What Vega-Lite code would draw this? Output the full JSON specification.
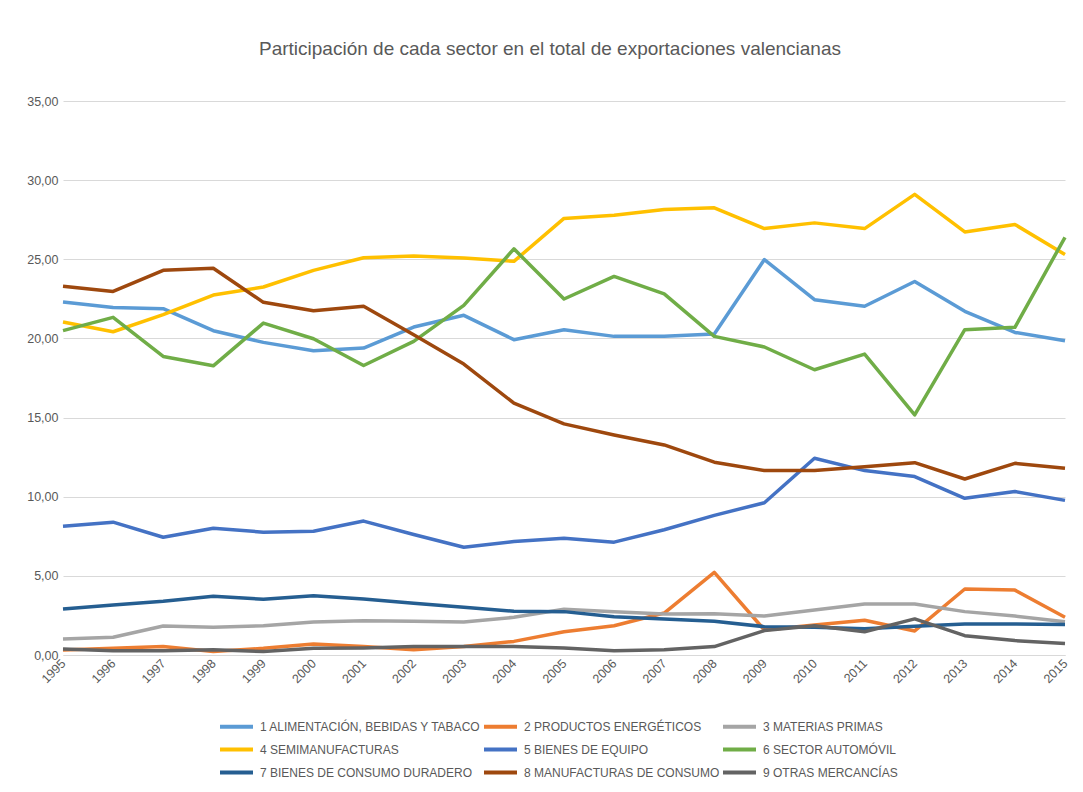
{
  "$schema": "https://vega.github.io/schema/vega-lite/v6.json",
  "autosize": {"type": "none"},
  "width": 1002,
  "height": 554,
  "padding": {"left": 63, "top": 101, "right": 18, "bottom": 137},
  "background": "white",
  "title": {
    "text": "Participación de cada sector en el total de exportaciones valencianas",
    "fontSize": 19,
    "fontWeight": "normal",
    "color": "#595959",
    "font": "Liberation Sans",
    "offset": 36,
    "dx": -14
  },
  "config": {
    "view": {"stroke": null},
    "font": "Liberation Sans"
  },
  "data": {
    "values": [
      {"y":1995,"k":"1 ALIMENTACIÓN, BEBIDAS Y TABACO","v":22.3},{"y":1996,"k":"1 ALIMENTACIÓN, BEBIDAS Y TABACO","v":21.96},{"y":1997,"k":"1 ALIMENTACIÓN, BEBIDAS Y TABACO","v":21.88},{"y":1998,"k":"1 ALIMENTACIÓN, BEBIDAS Y TABACO","v":20.49},{"y":1999,"k":"1 ALIMENTACIÓN, BEBIDAS Y TABACO","v":19.75},{"y":2000,"k":"1 ALIMENTACIÓN, BEBIDAS Y TABACO","v":19.22},{"y":2001,"k":"1 ALIMENTACIÓN, BEBIDAS Y TABACO","v":19.39},{"y":2002,"k":"1 ALIMENTACIÓN, BEBIDAS Y TABACO","v":20.72},{"y":2003,"k":"1 ALIMENTACIÓN, BEBIDAS Y TABACO","v":21.46},{"y":2004,"k":"1 ALIMENTACIÓN, BEBIDAS Y TABACO","v":19.92},{"y":2005,"k":"1 ALIMENTACIÓN, BEBIDAS Y TABACO","v":20.55},{"y":2006,"k":"1 ALIMENTACIÓN, BEBIDAS Y TABACO","v":20.13},{"y":2007,"k":"1 ALIMENTACIÓN, BEBIDAS Y TABACO","v":20.13},{"y":2008,"k":"1 ALIMENTACIÓN, BEBIDAS Y TABACO","v":20.28},{"y":2009,"k":"1 ALIMENTACIÓN, BEBIDAS Y TABACO","v":24.98},{"y":2010,"k":"1 ALIMENTACIÓN, BEBIDAS Y TABACO","v":22.45},{"y":2011,"k":"1 ALIMENTACIÓN, BEBIDAS Y TABACO","v":22.03},{"y":2012,"k":"1 ALIMENTACIÓN, BEBIDAS Y TABACO","v":23.6},{"y":2013,"k":"1 ALIMENTACIÓN, BEBIDAS Y TABACO","v":21.71},{"y":2014,"k":"1 ALIMENTACIÓN, BEBIDAS Y TABACO","v":20.38},{"y":2015,"k":"1 ALIMENTACIÓN, BEBIDAS Y TABACO","v":19.85},
      {"y":1995,"k":"2 PRODUCTOS ENERGÉTICOS","v":0.32},{"y":1996,"k":"2 PRODUCTOS ENERGÉTICOS","v":0.42},{"y":1997,"k":"2 PRODUCTOS ENERGÉTICOS","v":0.53},{"y":1998,"k":"2 PRODUCTOS ENERGÉTICOS","v":0.22},{"y":1999,"k":"2 PRODUCTOS ENERGÉTICOS","v":0.42},{"y":2000,"k":"2 PRODUCTOS ENERGÉTICOS","v":0.7},{"y":2001,"k":"2 PRODUCTOS ENERGÉTICOS","v":0.53},{"y":2002,"k":"2 PRODUCTOS ENERGÉTICOS","v":0.33},{"y":2003,"k":"2 PRODUCTOS ENERGÉTICOS","v":0.53},{"y":2004,"k":"2 PRODUCTOS ENERGÉTICOS","v":0.86},{"y":2005,"k":"2 PRODUCTOS ENERGÉTICOS","v":1.47},{"y":2006,"k":"2 PRODUCTOS ENERGÉTICOS","v":1.85},{"y":2007,"k":"2 PRODUCTOS ENERGÉTICOS","v":2.65},{"y":2008,"k":"2 PRODUCTOS ENERGÉTICOS","v":5.22},{"y":2009,"k":"2 PRODUCTOS ENERGÉTICOS","v":1.58},{"y":2010,"k":"2 PRODUCTOS ENERGÉTICOS","v":1.9},{"y":2011,"k":"2 PRODUCTOS ENERGÉTICOS","v":2.2},{"y":2012,"k":"2 PRODUCTOS ENERGÉTICOS","v":1.52},{"y":2013,"k":"2 PRODUCTOS ENERGÉTICOS","v":4.17},{"y":2014,"k":"2 PRODUCTOS ENERGÉTICOS","v":4.1},{"y":2015,"k":"2 PRODUCTOS ENERGÉTICOS","v":2.38},
      {"y":1995,"k":"3 MATERIAS PRIMAS","v":1.01},{"y":1996,"k":"3 MATERIAS PRIMAS","v":1.12},{"y":1997,"k":"3 MATERIAS PRIMAS","v":1.83},{"y":1998,"k":"3 MATERIAS PRIMAS","v":1.75},{"y":1999,"k":"3 MATERIAS PRIMAS","v":1.85},{"y":2000,"k":"3 MATERIAS PRIMAS","v":2.09},{"y":2001,"k":"3 MATERIAS PRIMAS","v":2.17},{"y":2002,"k":"3 MATERIAS PRIMAS","v":2.13},{"y":2003,"k":"3 MATERIAS PRIMAS","v":2.09},{"y":2004,"k":"3 MATERIAS PRIMAS","v":2.38},{"y":2005,"k":"3 MATERIAS PRIMAS","v":2.89},{"y":2006,"k":"3 MATERIAS PRIMAS","v":2.74},{"y":2007,"k":"3 MATERIAS PRIMAS","v":2.59},{"y":2008,"k":"3 MATERIAS PRIMAS","v":2.6},{"y":2009,"k":"3 MATERIAS PRIMAS","v":2.46},{"y":2010,"k":"3 MATERIAS PRIMAS","v":2.84},{"y":2011,"k":"3 MATERIAS PRIMAS","v":3.22},{"y":2012,"k":"3 MATERIAS PRIMAS","v":3.22},{"y":2013,"k":"3 MATERIAS PRIMAS","v":2.74},{"y":2014,"k":"3 MATERIAS PRIMAS","v":2.46},{"y":2015,"k":"3 MATERIAS PRIMAS","v":2.1},
      {"y":1995,"k":"4 SEMIMANUFACTURAS","v":21.04},{"y":1996,"k":"4 SEMIMANUFACTURAS","v":20.42},{"y":1997,"k":"4 SEMIMANUFACTURAS","v":21.5},{"y":1998,"k":"4 SEMIMANUFACTURAS","v":22.74},{"y":1999,"k":"4 SEMIMANUFACTURAS","v":23.25},{"y":2000,"k":"4 SEMIMANUFACTURAS","v":24.3},{"y":2001,"k":"4 SEMIMANUFACTURAS","v":25.1},{"y":2002,"k":"4 SEMIMANUFACTURAS","v":25.2},{"y":2003,"k":"4 SEMIMANUFACTURAS","v":25.08},{"y":2004,"k":"4 SEMIMANUFACTURAS","v":24.87},{"y":2005,"k":"4 SEMIMANUFACTURAS","v":27.58},{"y":2006,"k":"4 SEMIMANUFACTURAS","v":27.78},{"y":2007,"k":"4 SEMIMANUFACTURAS","v":28.14},{"y":2008,"k":"4 SEMIMANUFACTURAS","v":28.25},{"y":2009,"k":"4 SEMIMANUFACTURAS","v":26.94},{"y":2010,"k":"4 SEMIMANUFACTURAS","v":27.3},{"y":2011,"k":"4 SEMIMANUFACTURAS","v":26.94},{"y":2012,"k":"4 SEMIMANUFACTURAS","v":29.1},{"y":2013,"k":"4 SEMIMANUFACTURAS","v":26.73},{"y":2014,"k":"4 SEMIMANUFACTURAS","v":27.2},{"y":2015,"k":"4 SEMIMANUFACTURAS","v":25.3},
      {"y":1995,"k":"5 BIENES DE EQUIPO","v":8.14},{"y":1996,"k":"5 BIENES DE EQUIPO","v":8.39},{"y":1997,"k":"5 BIENES DE EQUIPO","v":7.44},{"y":1998,"k":"5 BIENES DE EQUIPO","v":8.01},{"y":1999,"k":"5 BIENES DE EQUIPO","v":7.76},{"y":2000,"k":"5 BIENES DE EQUIPO","v":7.82},{"y":2001,"k":"5 BIENES DE EQUIPO","v":8.46},{"y":2002,"k":"5 BIENES DE EQUIPO","v":7.61},{"y":2003,"k":"5 BIENES DE EQUIPO","v":6.81},{"y":2004,"k":"5 BIENES DE EQUIPO","v":7.17},{"y":2005,"k":"5 BIENES DE EQUIPO","v":7.38},{"y":2006,"k":"5 BIENES DE EQUIPO","v":7.13},{"y":2007,"k":"5 BIENES DE EQUIPO","v":7.91},{"y":2008,"k":"5 BIENES DE EQUIPO","v":8.82},{"y":2009,"k":"5 BIENES DE EQUIPO","v":9.62},{"y":2010,"k":"5 BIENES DE EQUIPO","v":12.43},{"y":2011,"k":"5 BIENES DE EQUIPO","v":11.65},{"y":2012,"k":"5 BIENES DE EQUIPO","v":11.27},{"y":2013,"k":"5 BIENES DE EQUIPO","v":9.9},{"y":2014,"k":"5 BIENES DE EQUIPO","v":10.33},{"y":2015,"k":"5 BIENES DE EQUIPO","v":9.77},
      {"y":1995,"k":"6 SECTOR AUTOMÓVIL","v":20.49},{"y":1996,"k":"6 SECTOR AUTOMÓVIL","v":21.33},{"y":1997,"k":"6 SECTOR AUTOMÓVIL","v":18.86},{"y":1998,"k":"6 SECTOR AUTOMÓVIL","v":18.27},{"y":1999,"k":"6 SECTOR AUTOMÓVIL","v":20.97},{"y":2000,"k":"6 SECTOR AUTOMÓVIL","v":19.98},{"y":2001,"k":"6 SECTOR AUTOMÓVIL","v":18.29},{"y":2002,"k":"6 SECTOR AUTOMÓVIL","v":19.81},{"y":2003,"k":"6 SECTOR AUTOMÓVIL","v":22.09},{"y":2004,"k":"6 SECTOR AUTOMÓVIL","v":25.66},{"y":2005,"k":"6 SECTOR AUTOMÓVIL","v":22.49},{"y":2006,"k":"6 SECTOR AUTOMÓVIL","v":23.92},{"y":2007,"k":"6 SECTOR AUTOMÓVIL","v":22.81},{"y":2008,"k":"6 SECTOR AUTOMÓVIL","v":20.13},{"y":2009,"k":"6 SECTOR AUTOMÓVIL","v":19.46},{"y":2010,"k":"6 SECTOR AUTOMÓVIL","v":18.02},{"y":2011,"k":"6 SECTOR AUTOMÓVIL","v":19.01},{"y":2012,"k":"6 SECTOR AUTOMÓVIL","v":15.17},{"y":2013,"k":"6 SECTOR AUTOMÓVIL","v":20.55},{"y":2014,"k":"6 SECTOR AUTOMÓVIL","v":20.7},{"y":2015,"k":"6 SECTOR AUTOMÓVIL","v":26.39},
      {"y":1995,"k":"7 BIENES DE CONSUMO DURADERO","v":2.91},{"y":1996,"k":"7 BIENES DE CONSUMO DURADERO","v":3.16},{"y":1997,"k":"7 BIENES DE CONSUMO DURADERO","v":3.39},{"y":1998,"k":"7 BIENES DE CONSUMO DURADERO","v":3.71},{"y":1999,"k":"7 BIENES DE CONSUMO DURADERO","v":3.52},{"y":2000,"k":"7 BIENES DE CONSUMO DURADERO","v":3.75},{"y":2001,"k":"7 BIENES DE CONSUMO DURADERO","v":3.54},{"y":2002,"k":"7 BIENES DE CONSUMO DURADERO","v":3.27},{"y":2003,"k":"7 BIENES DE CONSUMO DURADERO","v":3.01},{"y":2004,"k":"7 BIENES DE CONSUMO DURADERO","v":2.76},{"y":2005,"k":"7 BIENES DE CONSUMO DURADERO","v":2.74},{"y":2006,"k":"7 BIENES DE CONSUMO DURADERO","v":2.42},{"y":2007,"k":"7 BIENES DE CONSUMO DURADERO","v":2.28},{"y":2008,"k":"7 BIENES DE CONSUMO DURADERO","v":2.13},{"y":2009,"k":"7 BIENES DE CONSUMO DURADERO","v":1.79},{"y":2010,"k":"7 BIENES DE CONSUMO DURADERO","v":1.75},{"y":2011,"k":"7 BIENES DE CONSUMO DURADERO","v":1.66},{"y":2012,"k":"7 BIENES DE CONSUMO DURADERO","v":1.81},{"y":2013,"k":"7 BIENES DE CONSUMO DURADERO","v":1.96},{"y":2014,"k":"7 BIENES DE CONSUMO DURADERO","v":1.96},{"y":2015,"k":"7 BIENES DE CONSUMO DURADERO","v":1.92},
      {"y":1995,"k":"8 MANUFACTURAS DE CONSUMO","v":23.29},{"y":1996,"k":"8 MANUFACTURAS DE CONSUMO","v":22.97},{"y":1997,"k":"8 MANUFACTURAS DE CONSUMO","v":24.3},{"y":1998,"k":"8 MANUFACTURAS DE CONSUMO","v":24.43},{"y":1999,"k":"8 MANUFACTURAS DE CONSUMO","v":22.28},{"y":2000,"k":"8 MANUFACTURAS DE CONSUMO","v":21.75},{"y":2001,"k":"8 MANUFACTURAS DE CONSUMO","v":22.03},{"y":2002,"k":"8 MANUFACTURAS DE CONSUMO","v":20.23},{"y":2003,"k":"8 MANUFACTURAS DE CONSUMO","v":18.38},{"y":2004,"k":"8 MANUFACTURAS DE CONSUMO","v":15.91},{"y":2005,"k":"8 MANUFACTURAS DE CONSUMO","v":14.6},{"y":2006,"k":"8 MANUFACTURAS DE CONSUMO","v":13.9},{"y":2007,"k":"8 MANUFACTURAS DE CONSUMO","v":13.27},{"y":2008,"k":"8 MANUFACTURAS DE CONSUMO","v":12.18},{"y":2009,"k":"8 MANUFACTURAS DE CONSUMO","v":11.65},{"y":2010,"k":"8 MANUFACTURAS DE CONSUMO","v":11.65},{"y":2011,"k":"8 MANUFACTURAS DE CONSUMO","v":11.9},{"y":2012,"k":"8 MANUFACTURAS DE CONSUMO","v":12.15},{"y":2013,"k":"8 MANUFACTURAS DE CONSUMO","v":11.12},{"y":2014,"k":"8 MANUFACTURAS DE CONSUMO","v":12.11},{"y":2015,"k":"8 MANUFACTURAS DE CONSUMO","v":11.8},
      {"y":1995,"k":"9 OTRAS MERCANCÍAS","v":0.38},{"y":1996,"k":"9 OTRAS MERCANCÍAS","v":0.27},{"y":1997,"k":"9 OTRAS MERCANCÍAS","v":0.27},{"y":1998,"k":"9 OTRAS MERCANCÍAS","v":0.33},{"y":1999,"k":"9 OTRAS MERCANCÍAS","v":0.22},{"y":2000,"k":"9 OTRAS MERCANCÍAS","v":0.42},{"y":2001,"k":"9 OTRAS MERCANCÍAS","v":0.44},{"y":2002,"k":"9 OTRAS MERCANCÍAS","v":0.53},{"y":2003,"k":"9 OTRAS MERCANCÍAS","v":0.53},{"y":2004,"k":"9 OTRAS MERCANCÍAS","v":0.53},{"y":2005,"k":"9 OTRAS MERCANCÍAS","v":0.44},{"y":2006,"k":"9 OTRAS MERCANCÍAS","v":0.27},{"y":2007,"k":"9 OTRAS MERCANCÍAS","v":0.33},{"y":2008,"k":"9 OTRAS MERCANCÍAS","v":0.53},{"y":2009,"k":"9 OTRAS MERCANCÍAS","v":1.54},{"y":2010,"k":"9 OTRAS MERCANCÍAS","v":1.85},{"y":2011,"k":"9 OTRAS MERCANCÍAS","v":1.47},{"y":2012,"k":"9 OTRAS MERCANCÍAS","v":2.28},{"y":2013,"k":"9 OTRAS MERCANCÍAS","v":1.22},{"y":2014,"k":"9 OTRAS MERCANCÍAS","v":0.91},{"y":2015,"k":"9 OTRAS MERCANCÍAS","v":0.73}
    ]
  },
  "mark": {"type": "line", "strokeWidth": 3.5, "strokeJoin": "round", "strokeCap": "butt"},
  "encoding": {
    "x": {
      "field": "y",
      "type": "ordinal",
      "scale": {"type": "point", "padding": 0},
      "axis": {
        "title": null,
        "labelAngle": -45,
        "labelAlign": "right",
        "labelBaseline": "middle",
        "labelFontSize": 12.5,
        "labelColor": "#595959",
        "labelPadding": 6,
        "ticks": false,
        "domain": true,
        "domainColor": "#d9d9d9",
        "domainWidth": 1,
        "grid": false
      }
    },
    "y": {
      "field": "v",
      "type": "quantitative",
      "scale": {"domain": [0, 35], "nice": false, "zero": true},
      "axis": {
        "title": null,
        "values": [0, 5, 10, 15, 20, 25, 30, 35],
        "labelExpr": "replace(format(datum.value, '.2f'), '.', ',')",
        "labelFontSize": 12.5,
        "labelColor": "#595959",
        "labelPadding": 5,
        "ticks": false,
        "domain": false,
        "grid": true,
        "gridColor": "#d9d9d9",
        "gridWidth": 1
      }
    },
    "color": {
      "field": "k",
      "type": "nominal",
      "scale": {
        "domain": ["1 ALIMENTACIÓN, BEBIDAS Y TABACO", "2 PRODUCTOS ENERGÉTICOS", "3 MATERIAS PRIMAS", "4 SEMIMANUFACTURAS", "5 BIENES DE EQUIPO", "6 SECTOR AUTOMÓVIL", "7 BIENES DE CONSUMO DURADERO", "8 MANUFACTURAS DE CONSUMO", "9 OTRAS MERCANCÍAS"],
        "range": ["#5B9BD5", "#ED7D31", "#A5A5A5", "#FFC000", "#4472C4", "#70AD47", "#255E91", "#9E480E", "#636363"]
      },
      "legend": {
        "title": null,
        "orient": "none",
        "legendX": 166,
        "legendY": 618,
        "direction": "horizontal",
        "columns": 3,
        "symbolType": "M-3,0H3",
        "symbolSize": 121,
        "symbolStrokeWidth": 4,
        "labelFont": "Liberation Sans",
        "labelFontSize": 12,
        "labelColor": "#595959",
        "labelOffset": 16,
        "columnPadding": -5,
        "rowPadding": 6,
        "labelLimit": 400
      }
    }
  }
}
